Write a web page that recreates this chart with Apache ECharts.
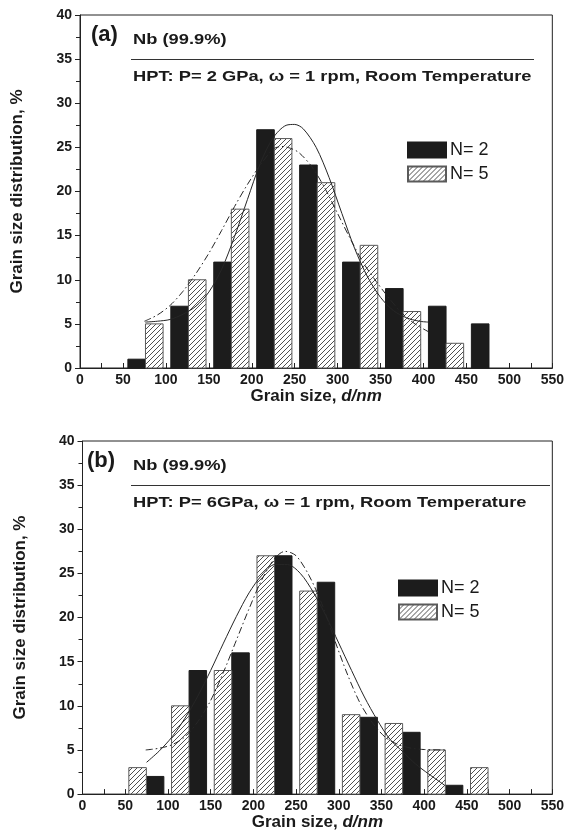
<!DOCTYPE html>
<html>
<head>
<meta charset="utf-8">
<script src="https://cdn.jsdelivr.net/npm/echarts@6/dist/echarts.min.js"></script>
<style>
  html, body { margin: 0; padding: 0; background: #fff; }
  #chart { width: 567px; height: 832px; }
</style>
</head>
<body>
<div id="chart"></div>
<script>
// ---- Panel (a): HPT at 2 GPa ----
const aN2Centers = [66, 116, 166, 216, 266, 316, 366, 416, 466];
const aN2Values  = [1, 7, 12, 27, 23, 12, 9, 7, 5];
const aN5Centers = [86.5, 136.5, 186.5, 236.5, 286.5, 336.5, 386.5, 436.5];
const aN5Values  = [5, 10, 18, 26, 21, 13.9, 6.4, 2.8];

// fitted distribution curves, panel (a)
const aFitSolidX = [76, 90, 105, 120, 135, 150, 165, 180, 195, 210, 225, 240, 250, 260, 275, 290, 305, 320, 335, 350, 365, 380, 395, 406];
const aFitSolidY = [5.2, 5.3, 5.5, 6.1, 7.0, 8.6, 11.2, 14.9, 19.1, 23.2, 26.1, 27.5, 27.6, 27.1, 25.0, 21.6, 17.5, 13.5, 10.3, 8.0, 6.5, 5.7, 5.3, 5.2];
const aFitDashX  = [75, 90, 105, 120, 135, 150, 165, 180, 195, 210, 225, 235, 245, 255, 270, 285, 300, 315, 330, 345, 360, 375, 390, 406];
const aFitDashY  = [5.3, 6.0, 7.1, 8.7, 10.7, 13.0, 15.6, 18.3, 20.8, 23.0, 24.8, 25.1, 24.9, 24.4, 22.8, 20.4, 17.5, 14.6, 11.9, 9.8, 7.9, 6.2, 5.0, 4.1];

// ---- Panel (b): HPT at 6 GPa ----
const bN2Centers = [85, 135, 185, 235, 285, 335, 385, 435];
const bN2Values  = [2, 14, 16, 27, 24, 8.7, 7, 1];
const bN5Centers = [64.5, 114.5, 164.5, 214.5, 264.5, 314.5, 364.5, 414.5, 464.5];
const bN5Values  = [3, 10, 14, 27, 23, 9, 8, 5, 3];

// fitted distribution curves, panel (b)
const bFitSolidX = [75, 90, 105, 120, 135, 150, 165, 180, 195, 210, 225, 240, 255, 270, 285, 300, 315, 330, 345, 360, 375, 390, 405, 424];
const bFitSolidY = [3.6, 4.9, 6.5, 8.6, 11.1, 14.0, 17.1, 20.1, 22.8, 24.8, 26.0, 26.0, 25.0, 22.9, 20.2, 17.1, 14.0, 11.0, 8.4, 6.2, 4.8, 3.4, 2.3, 1.0];
const bFitDashX  = [74, 90, 105, 120, 135, 150, 165, 180, 195, 210, 225, 237, 250, 265, 280, 295, 310, 325, 340, 355, 370, 385, 400, 424];
const bFitDashY  = [5.0, 5.2, 5.6, 6.5, 8.2, 10.6, 13.8, 17.4, 21.0, 24.3, 26.7, 27.5, 27.0, 24.8, 21.6, 17.5, 13.6, 10.3, 8.0, 6.4, 5.6, 5.2, 5.05, 5.0];

// axis ranges and ticks
const xMin = 0, xMax = 550, xStep = 50;
const yMin = 0, yMax = 40, yStep = 5;
const binWidth = 20.5;   // bar width in nm
const seriesNames = ['N= 2', 'N= 5'];

const FONT = '"Liberation Sans", Arial, sans-serif';
const INK = '#1a1a1a';

// diagonal hatch fill for the N= 5 bars
function makeHatch() {
  const c = document.createElement('canvas');
  c.width = 5; c.height = 5;
  const g = c.getContext('2d');
  g.fillStyle = '#ffffff';
  g.fillRect(0, 0, 5, 5);
  g.strokeStyle = '#3c3c3c';
  g.lineWidth = 0.9;
  g.beginPath();
  g.moveTo(0, 5); g.lineTo(5, 0);
  g.moveTo(-1, 1); g.lineTo(1, -1);
  g.moveTo(4, 6); g.lineTo(6, 4);
  g.stroke();
  return c;
}
const hatch = { image: makeHatch(), repeat: 'repeat' };

function barSeries(name, centers, values, idx, hatched) {
  const fill = hatched ? hatch : '#1c1c1c';
  const stroke = hatched ? '#5a5a5a' : '#1c1c1c';
  return {
    type: 'custom',
    name: name,
    xAxisIndex: idx,
    yAxisIndex: idx,
    data: centers.map((c, i) => [c, values[i]]),
    itemStyle: { color: fill, borderColor: stroke, borderWidth: 1 },
    renderItem: function (params, api) {
      const x = api.value(0), y = api.value(1);
      const p0 = api.coord([x - binWidth / 2, y]);
      const p1 = api.coord([x + binWidth / 2, 0]);
      return {
        type: 'rect',
        shape: { x: p0[0], y: p0[1], width: p1[0] - p0[0], height: p1[1] - p0[1] },
        style: { fill: fill, stroke: stroke, lineWidth: 1 }
      };
    },
    z: 2
  };
}

function fitSeries(xs, ys, idx, dashed) {
  return {
    type: 'line',
    name: dashed ? 'fit-dash' : 'fit-solid',
    xAxisIndex: idx,
    yAxisIndex: idx,
    data: xs.map((x, i) => [x, ys[i]]),
    smooth: 0.3,
    showSymbol: false,
    silent: true,
    lineStyle: { color: '#262626', width: 1, type: dashed ? [7, 3, 1.5, 3] : 'solid' },
    z: 4
  };
}

function xAxisCfg(idx) {
  return {
    type: 'value', gridIndex: idx,
    min: xMin, max: xMax, interval: xStep,
    axisLine: { show: true, lineStyle: { color: '#222', width: 1 } },
    axisTick: { show: true, inside: true, length: 5, lineStyle: { color: '#222' } },
    minorTick: { show: true, splitNumber: 2, length: 5, lineStyle: { color: '#222' } },
    splitLine: { show: false },
    axisLabel: { fontFamily: FONT, fontSize: 14, fontWeight: 'bold', color: INK, margin: 5 },
    name: '{n|Grain size, }{i|d/nm}',
    nameLocation: 'middle',
    nameGap: 17,
    nameTextStyle: {
      fontFamily: FONT, fontSize: 17, fontWeight: 'bold', color: INK,
      rich: {
        n: { fontFamily: FONT, fontSize: 17, fontWeight: 'bold', color: INK },
        i: { fontFamily: FONT, fontSize: 17, fontWeight: 'bold', fontStyle: 'italic', color: INK }
      }
    }
  };
}

function yAxisCfg(idx) {
  return {
    type: 'value', gridIndex: idx,
    min: yMin, max: yMax, interval: yStep,
    axisLine: { show: true, lineStyle: { color: '#222', width: 1 } },
    axisTick: { show: true, inside: false, length: 5, lineStyle: { color: '#222' } },
    minorTick: { show: true, splitNumber: 2, length: 4, lineStyle: { color: '#222' } },
    splitLine: { show: false },
    axisLabel: { fontFamily: FONT, fontSize: 14, fontWeight: 'bold', color: INK, margin: 8 },
    name: 'Grain size distribution, %',
    nameLocation: 'middle',
    nameGap: 54,
    nameTextStyle: { fontFamily: FONT, fontSize: 17, fontWeight: 'bold', color: INK }
  };
}

function legendCfg(left, top) {
  return {
    left: left, top: top,
    orient: 'vertical',
    icon: 'rect',
    itemWidth: 38, itemHeight: 15, itemGap: 6,
    padding: 0,
    selectedMode: false,
    data: seriesNames,
    textStyle: { fontFamily: FONT, fontSize: 18, color: INK, padding: [0, 0, 0, -1] }
  };
}

function panelText(label, line2, top, lineEnd, labelX) {
  const textStyle = (t) => ({ text: t, font: 'bold 15px ' + FONT, fill: INK, verticalAlign: 'middle', align: 'left' });
  return [
    { type: 'text', x: labelX, y: top + 20, style: { text: label, font: 'bold 22px ' + FONT, fill: INK, verticalAlign: 'middle' } },
    { type: 'text', x: 133, y: top + 25, scaleX: 1.22, style: textStyle('Nb (99.9%)') },
    { type: 'line', shape: { x1: 131, y1: top + 44.5, x2: lineEnd, y2: top + 44.5 }, style: { stroke: '#333', lineWidth: 1 } },
    { type: 'text', x: 133, y: top + 61.5, scaleX: 1.22, style: textStyle(line2) }
  ];
}

const chart = echarts.init(document.getElementById('chart'), null, { renderer: 'canvas' });
chart.setOption({
  animation: false,
  backgroundColor: '#ffffff',
  grid: [
    { left: 80, top: 15, width: 477, height: 353, show: true, borderColor: '#222', borderWidth: 1, backgroundColor: 'transparent' },
    { left: 82.5, top: 441, width: 477, height: 356, show: true, borderColor: '#222', borderWidth: 1, backgroundColor: 'transparent' }
  ],
  xAxis: [xAxisCfg(0), xAxisCfg(1)],
  yAxis: [yAxisCfg(0), yAxisCfg(1)],
  legend: [legendCfg(407, 141), legendCfg(398, 579)],
  graphic: [].concat(
    panelText('(a)', 'HPT: P= 2 GPa, \u03c9 = 1 rpm, Room Temperature', 15, 534, 91),
    panelText('(b)', 'HPT: P= 6GPa, \u03c9 = 1 rpm, Room Temperature', 441, 550, 87)
  ),
  series: [
    barSeries(seriesNames[0], aN2Centers, aN2Values, 0, false),
    barSeries(seriesNames[1], aN5Centers, aN5Values, 0, true),
    fitSeries(aFitSolidX, aFitSolidY, 0, false),
    fitSeries(aFitDashX, aFitDashY, 0, true),
    barSeries(seriesNames[0], bN2Centers, bN2Values, 1, false),
    barSeries(seriesNames[1], bN5Centers, bN5Values, 1, true),
    fitSeries(bFitSolidX, bFitSolidY, 1, false),
    fitSeries(bFitDashX, bFitDashY, 1, true)
  ]
});
</script>
</body>
</html>
